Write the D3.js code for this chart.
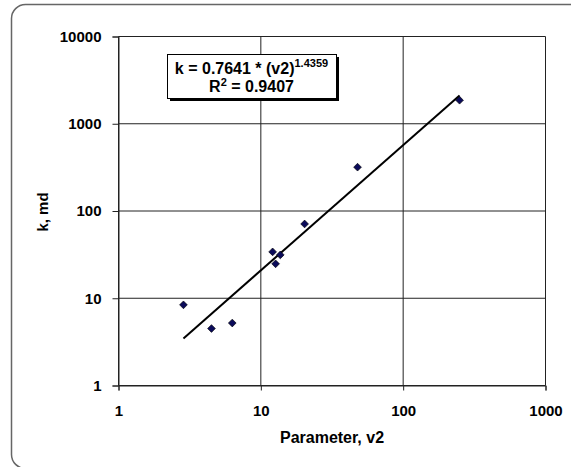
<!DOCTYPE html>
<html lang="en">
<head>
<meta charset="UTF-8">
<title>k vs Parameter v2</title>
<script src="https://d3js.org/d3.v7.min.js"></script>
<style>
  body { margin: 0; background: #fff; }
  svg { display: block; font-family: "Liberation Sans", Arial, sans-serif; }
</style>
</head>
<body>
<svg id="chart" width="571" height="467"></svg>
<script>
// data
const v2 = [2.86, 4.5, 6.3, 12.1, 12.7, 13.7, 20.3, 47.8, 249];
const k  = [8.4, 4.5, 5.2, 34, 24.8, 31.4, 71, 318, 1860];
const xTicks = [1, 10, 100, 1000];
const yTicks = [1, 10, 100, 1000, 10000];
// power trendline as printed on the chart
const fitCoef = 0.7641, fitExp = 1.4359, fitR2 = 0.9407;

const svg = d3.select("#chart");

// outer rounded frame (runs off the right and bottom edge)
svg.append("rect")
  .attr("x", 11.5).attr("y", 4.5)
  .attr("width", 620).attr("height", 464)
  .attr("rx", 14)
  .attr("fill", "none")
  .attr("stroke", "#666")
  .attr("stroke-width", 1.5);

const x = d3.scaleLog().domain([1, 1000]).range([118.5, 545.5]);
const y = d3.scaleLog().domain([1, 10000]).range([385.5, 36.5]);

// grid (also makes the plot border)
const grid = svg.append("g").attr("stroke", "#222").attr("stroke-width", 1);
grid.selectAll(".gx").data(xTicks).join("line")
  .attr("x1", d => x(d)).attr("x2", d => x(d))
  .attr("y1", y(1)).attr("y2", y(10000));
grid.selectAll(".gy").data(yTicks).join("line")
  .attr("x1", x(1)).attr("x2", x(1000))
  .attr("y1", d => y(d)).attr("y2", d => y(d));

// axes
const yAxis = svg.append("g")
  .attr("transform", `translate(${x(1)},0)`)
  .call(d3.axisLeft(y).tickValues(yTicks).tickFormat(d3.format("d"))
    .tickSize(6).tickPadding(11));
const xAxis = svg.append("g")
  .attr("transform", `translate(0,${y(1)})`)
  .call(d3.axisBottom(x).tickValues(xTicks).tickFormat(d3.format("d"))
    .tickSize(5).tickPadding(15));

[xAxis, yAxis].forEach(a => {
  a.select(".domain").attr("stroke", "#222");
  a.selectAll(".tick line").attr("stroke", "#222");
  a.selectAll(".tick text")
    .attr("fill", "#000")
    .attr("font-size", 15)
    .attr("font-weight", "bold")
    .attr("font-family", "'Liberation Sans', Arial, sans-serif");
});

// axis titles
svg.append("text")
  .attr("x", 332).attr("y", 443)
  .attr("text-anchor", "middle")
  .attr("font-size", 16).attr("font-weight", "bold")
  .text("Parameter, v2");

svg.append("text")
  .attr("transform", "translate(48,212) rotate(-90)")
  .attr("text-anchor", "middle")
  .attr("font-size", 15).attr("font-weight", "bold")
  .text("k, md");

// trendline between the smallest and largest v2
const vMin = d3.min(v2), vMax = d3.max(v2);
const trend = [vMin, vMax].map(v => [v, fitCoef * Math.pow(v, fitExp)]);
svg.append("path")
  .datum(trend)
  .attr("d", d3.line().x(d => x(d[0])).y(d => y(d[1])))
  .attr("fill", "none")
  .attr("stroke", "#000")
  .attr("stroke-width", 2);

// diamond markers
const pts = v2.map((v, i) => ({ v: v, k: k[i] }));
svg.selectAll(".pt").data(pts).join("path")
  .attr("class", "pt")
  .attr("d", d3.symbol(d3.symbolSquare, 30))
  .attr("transform", d => `translate(${x(d.v)},${y(d.k)}) rotate(45)`)
  .attr("fill", "#0b0b5a")
  .attr("stroke", "#000")
  .attr("stroke-width", 0.6);

// equation box
const bx = 167, by = 54, bw = 169, bh = 44;
svg.append("rect")
  .attr("x", bx + 3).attr("y", by + 3).attr("width", bw).attr("height", bh)
  .attr("fill", "#000");
svg.append("rect")
  .attr("x", bx + 0.5).attr("y", by + 0.5).attr("width", bw).attr("height", bh)
  .attr("fill", "#fff").attr("stroke", "#000").attr("stroke-width", 1);

const eq1 = svg.append("text")
  .attr("x", bx + bw / 2).attr("y", 74)
  .attr("text-anchor", "middle")
  .attr("font-size", 16).attr("font-weight", "bold");
eq1.append("tspan").text(`k = ${fitCoef} * (v2)`);
eq1.append("tspan").attr("font-size", 11).attr("dy", -7).text(fitExp);

const eq2 = svg.append("text")
  .attr("x", bx + bw / 2).attr("y", 92)
  .attr("text-anchor", "middle")
  .attr("font-size", 16).attr("font-weight", "bold");
eq2.append("tspan").text("R");
eq2.append("tspan").attr("font-size", 11).attr("dy", -6).text("2");
eq2.append("tspan").attr("dy", 6).text(` = ${fitR2}`);
</script>
</body>
</html>
